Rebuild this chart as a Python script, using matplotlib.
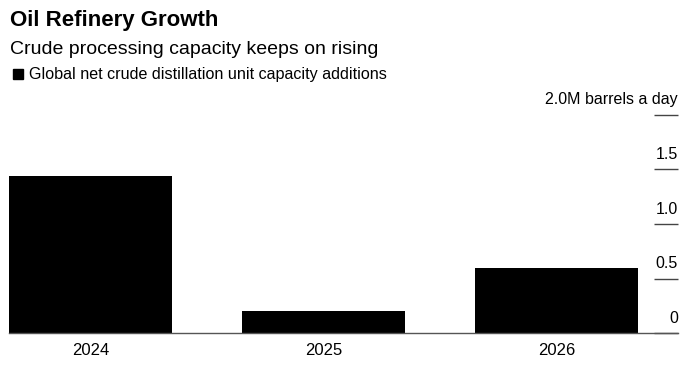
import matplotlib
matplotlib.use("Agg")
import matplotlib.pyplot as plt
import matplotlib.transforms as mtransforms
from matplotlib.patches import Rectangle

plt.rcParams['font.family'] = ['Liberation Sans', 'DejaVu Sans']

years = ['2024', '2025', '2026']
additions = [1.44, 0.20, 0.60]  # million barrels a day
y_ticks = [0, 0.5, 1.0, 1.5, 2.0]
y_tick_labels = ['0', '0.5', '1.0', '1.5', '2.0M barrels a day']

W, H = 694, 370
fig = plt.figure(figsize=(W / 100, H / 100), dpi=100)
ax = fig.add_axes([9 / W, (H - 333.3) / H, (678 - 9) / W, (333.3 - 114.7) / H])

x = range(len(years))
ax.bar(x, additions, width=0.7, color='black', zorder=2)
ax.set_xlim(-0.35, 2.52)
ax.set_ylim(0, 2.0)

for s in ['top', 'left', 'right']:
    ax.spines[s].set_visible(False)
ax.spines['bottom'].set_color('#555555')
ax.spines['bottom'].set_linewidth(1)

ax.set_xticks(list(x))
ax.set_xticklabels(years, fontsize=12)
ax.tick_params(axis='x', length=0, pad=7)

# short tick lines on the right, labels sit above them
ax.yaxis.tick_right()
ax.set_yticks(y_ticks)
ax.set_yticklabels([])
ax.tick_params(axis='y', direction='in', length=17.3, width=1, color='#444444')

trans = mtransforms.blended_transform_factory(ax.transAxes, ax.transData)
trans = mtransforms.offset_copy(trans, fig=fig, x=0, y=7.5, units='points')
for v, lab in zip(y_ticks, y_tick_labels):
    ax.text(1.0, v, lab, transform=trans, ha='right', va='baseline', fontsize=11.5)

fig.text(10 / W, (H - 26) / H, 'Oil Refinery Growth', fontsize=16, fontweight='bold', va='baseline')
fig.text(10 / W, (H - 54) / H, 'Crude processing capacity keeps on rising', fontsize=14, va='baseline')
fig.add_artist(Rectangle((13 / W, (H - 79) / H), 10 / W, 10 / H, transform=fig.transFigure,
                         color='black'))
fig.text(29 / W, (H - 79.5) / H, 'Global net crude distillation unit capacity additions',
         fontsize=11.6, va='baseline')

fig.savefig('out.png', dpi=100)
